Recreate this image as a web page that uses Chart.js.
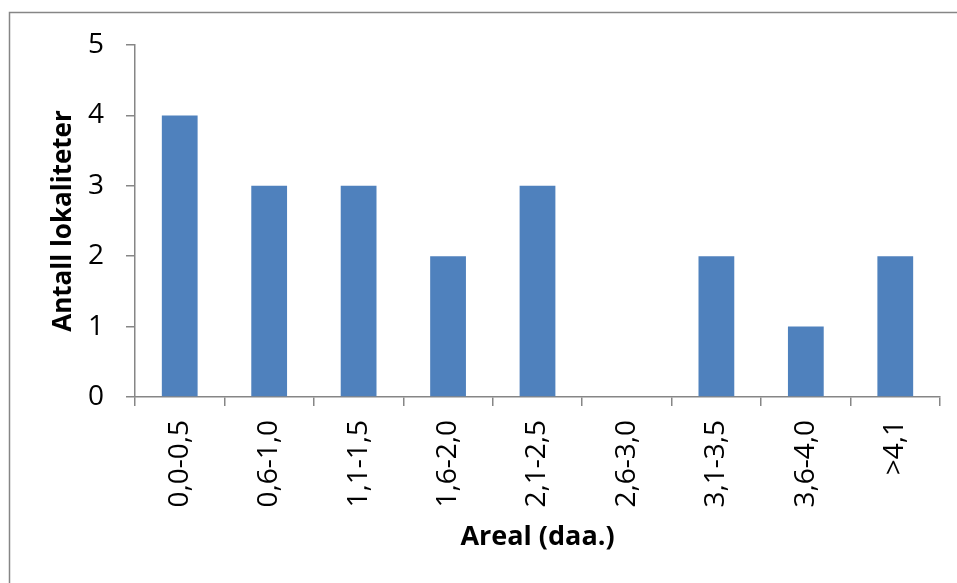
<!DOCTYPE html>
<html>
<head>
<meta charset="utf-8">
<script src="https://cdn.jsdelivr.net/npm/chart.js@4"></script>
<style>
  html, body { margin: 0; padding: 0; background: #fff; }
  #wrap { width: 957px; height: 583px; }
</style>
</head>
<body>
<div id="wrap"><canvas id="arealChart" width="957" height="583"></canvas></div>
<script>
// Antall lokaliteter fordelt på arealklasser
const kategorier = ["0,0-0,5", "0,6-1,0", "1,1-1,5", "1,6-2,0", "2,1-2,5", "2,6-3,0", "3,1-3,5", "3,6-4,0", ">4,1"];
const antall = [4, 3, 3, 2, 3, 0, 2, 1, 2];

const aksefarge = "#868686";
const font = "'Open Sans', 'Liberation Sans', sans-serif";

// grå ramme rundt hele diagrammet
const ramme = {
  id: "ramme",
  beforeDraw(chart) {
    const ctx = chart.ctx;
    ctx.save();
    ctx.fillStyle = "#fff";
    ctx.fillRect(0, 0, chart.width, chart.height);
    ctx.strokeStyle = aksefarge;
    ctx.lineWidth = 1.5;
    ctx.strokeRect(9.5, 12.5, 1200, 1200);
    ctx.restore();
  }
};

new Chart(document.getElementById("arealChart"), {
  type: "bar",
  data: {
    labels: kategorier,
    datasets: [{
      data: antall,
      backgroundColor: "#4F81BD",
      categoryPercentage: 1,
      barPercentage: 0.4
    }]
  },
  options: {
    responsive: false,
    animation: false,
    layout: { padding: { top: 45, right: 17, left: 0, bottom: 0 } },
    plugins: { legend: { display: false }, tooltip: { enabled: false } },
    scales: {
      x: {
        offset: true,
        afterFit(scale) { scale.height = 186; },
        border: { color: aksefarge, width: 1.5 },
        grid: { offset: true, drawOnChartArea: false, color: aksefarge, tickLength: 9, lineWidth: 1.5 },
        ticks: { color: "#000", minRotation: 90, maxRotation: 90, padding: 14, font: { family: font, size: 28 } },
        title: {
          display: true,
          text: "Areal (daa.)",
          color: "#000",
          padding: { top: 0, bottom: 29 },
          font: { family: font, size: 27, weight: "bold" }
        }
      },
      y: {
        min: 0,
        max: 5,
        afterFit(scale) { scale.width = 135; },
        border: { color: aksefarge, width: 1.5 },
        grid: { drawOnChartArea: false, color: aksefarge, tickLength: 9, lineWidth: 1.5 },
        ticks: { stepSize: 1, color: "#000", padding: 22, font: { family: font, size: 28 } },
        title: {
          display: true,
          text: "Antall lokaliteter",
          color: "#000",
          padding: { top: 48, bottom: 0 },
          font: { family: font, size: 26, weight: "bold" }
        }
      }
    }
  },
  plugins: [ramme]
});
</script>
</body>
</html>
